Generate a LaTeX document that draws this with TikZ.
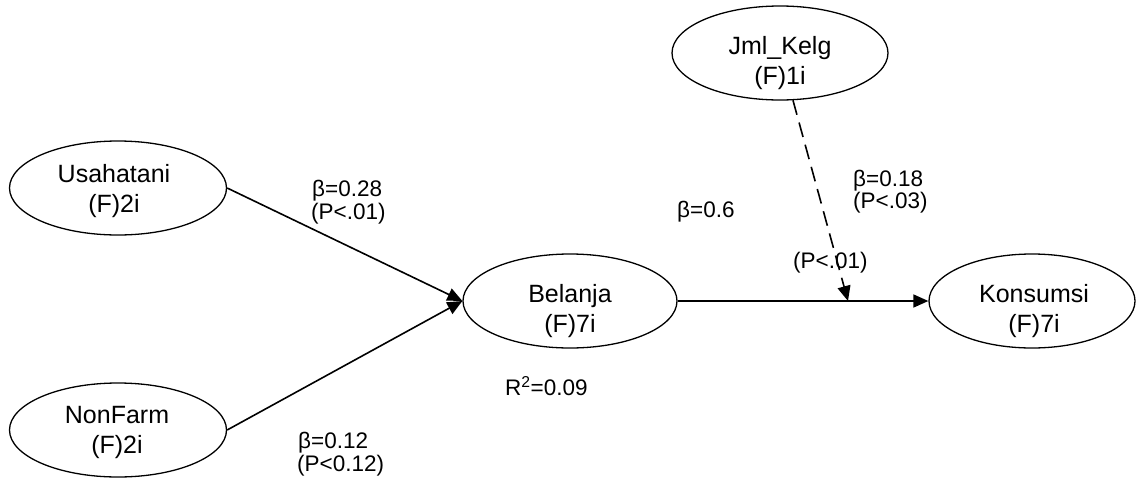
\documentclass[tikz,border=0pt]{standalone}
\usepackage{fontspec}
\setmainfont{Liberation Sans}
\usetikzlibrary{shapes.geometric,arrows.meta}
\begin{document}
\begin{tikzpicture}[x=1pt,y=-1pt,
  latent/.style={ellipse,draw,line width=1.3pt,minimum width=214pt,minimum height=94pt,inner sep=0pt},
  vname/.style={align=center,font=\fontsize{25}{30}\selectfont,inner sep=0pt},
  coef/.style={anchor=base west,font=\fontsize{22.5}{26}\selectfont,inner sep=0pt},
  effect/.style={line width=1.6pt,-{Triangle[length=15pt,width=13pt]}},
  moderate/.style={effect,dash pattern=on 15pt off 8pt},
]
\useasboundingbox (0,0) rectangle (1137,479);

% latent variables
\node[latent,minimum width=217pt] (usa) at (118,188) {};
\node[vname] (usaT) at (114,191) {Usahatani\\(F)2i};
\node[latent,minimum width=217pt] (non) at (118,430) {};
\node[vname] (nonT) at (117,432) {NonFarm\\(F)2i};
\node[latent] (bel) at (570,301) {};
\node[vname] (belT) at (570,311) {Belanja\\(F)7i};
\node[latent,minimum width=206pt] (kon) at (1032,301) {};
\node[vname] (konT) at (1034,311) {Konsumsi\\(F)7i};
\node[latent,minimum width=216pt] (jml) at (780,53) {};
\node[vname] (jmlT) at (780,63) {Jml\_Kelg\\(F)1i};

% structural paths
\draw[effect] (usa.east) -- (bel.west);
\draw[effect] (non.east) -- (bel.west);
\draw[effect] (bel.east) -- (kon.west);
\coordinate (mod) at (848,301);
\draw[moderate] (jml) -- (mod);

% coefficients
\node[coef] (b1) at (312,196) {β=0.28};
\node[coef] (p1) at (311,219) {(P<.01)};
\node[coef] (b2) at (298,448) {β=0.12};
\node[coef] (p2) at (297,471) {(P<0.12)};
\node[coef] (b3) at (677,217) {β=0.6};
\node[coef] (p3) at (793,268) {(P<.01)};
\node[coef] (b4) at (853,186) {β=0.18};
\node[coef] (p4) at (853,208) {(P<.03)};
\node[coef] (r2) at (505,395) {R\textsuperscript{2}=0.09};
\end{tikzpicture}
\end{document}
